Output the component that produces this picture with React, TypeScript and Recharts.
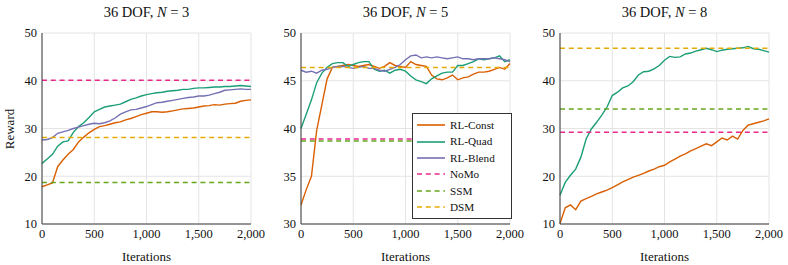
import React from 'react';
import { LineChart, Line, XAxis, YAxis, CartesianGrid, ReferenceLine, Legend } from 'recharts';

// x positions (iterations)
const iterations = [
  0, 50, 100, 150, 200, 250, 300, 350, 400, 450, 500, 550, 600, 650, 700, 750, 800, 850, 900, 950,
  1000, 1050, 1100, 1150, 1200, 1250, 1300, 1350, 1400, 1450, 1500, 1550, 1600, 1650, 1700, 1750,
  1800, 1850, 1900, 1950, 2000,
];

// N = 3
const constN3 = [
  17.8, 18.2, 18.6, 22.0, 23.4, 24.6, 25.6, 27.2, 28.2, 29.1, 29.8, 30.4, 30.6, 30.9, 31.2, 31.4, 31.8, 32.1, 32.5, 32.9,
  33.2, 33.5, 33.5, 33.4, 33.5, 33.7, 33.9, 34.1, 34.2, 34.3, 34.5, 34.7, 34.8, 35.0, 34.9, 35.1, 35.2, 35.3, 35.7, 35.9, 36.0,
];
const quadN3 = [
  22.7, 23.6, 24.6, 26.3, 27.2, 27.4, 29.2, 30.4, 31.2, 32.3, 33.5, 34.0, 34.5, 34.7, 34.9, 35.1, 35.6, 36.1, 36.4, 36.8,
  37.1, 37.3, 37.5, 37.6, 37.8, 37.9, 38.0, 38.2, 38.2, 38.4, 38.5, 38.5, 38.6, 38.7, 38.7, 38.8, 38.8, 38.9, 39.0, 38.9, 38.8,
];
const blendN3 = [
  27.6, 27.7, 28.1, 29.0, 29.3, 29.6, 30.0, 30.3, 30.6, 30.9, 31.1, 31.0, 31.2, 31.6, 32.2, 33.0, 33.5, 33.9, 34.0, 34.3,
  34.6, 35.0, 35.4, 35.5, 35.7, 35.9, 36.1, 36.3, 36.5, 36.6, 36.8, 36.8, 37.0, 37.3, 37.6, 38.0, 38.1, 38.2, 38.3, 38.2, 38.2,
];

// N = 5
const constN5 = [
  32.0, 33.6, 35.0, 39.8, 42.5, 45.2, 46.4, 46.5, 46.6, 46.7, 46.6, 46.5, 46.6, 46.7, 46.5, 46.3, 46.5, 46.9, 46.6, 46.5,
  46.4, 47.0, 46.7, 46.6, 46.5, 45.6, 45.2, 45.1, 45.3, 45.6, 45.1, 45.3, 45.4, 45.7, 45.9, 45.9, 46.0, 46.2, 46.4, 46.2, 46.8,
];
const quadN5 = [
  40.0, 41.5, 43.0, 44.8, 45.8, 46.4, 46.8, 46.9, 46.9, 46.5, 46.7, 46.9, 47.0, 47.0, 46.2, 46.0, 46.1, 45.8, 46.1, 46.2,
  46.0, 45.5, 45.1, 44.9, 44.7, 45.2, 45.5, 45.8, 45.9, 45.9, 46.6, 46.6, 46.8, 47.0, 47.3, 47.2, 47.3, 47.4, 47.6, 47.0, 47.2,
];
const blendN5 = [
  46.1, 45.9, 46.0, 45.8, 46.1, 46.2, 46.4, 46.5, 46.5, 46.4, 46.3, 46.4, 46.5, 46.3, 46.3, 46.1, 46.0, 46.2, 46.4, 46.7,
  47.2, 47.6, 47.7, 47.4, 47.5, 47.4, 47.5, 47.4, 47.3, 47.4, 47.5, 47.3, 47.3, 47.2, 47.3, 47.3, 47.3, 47.4, 47.3, 47.2, 47.0,
];

// N = 8 (no RL-Blend)
const constN8 = [
  10.1, 13.4, 14.0, 13.0, 14.8, 15.3, 15.8, 16.3, 16.7, 17.1, 17.6, 18.2, 18.8, 19.3, 19.8, 20.2, 20.6, 21.1, 21.5, 22.0,
  22.3, 23.0, 23.6, 24.2, 24.7, 25.3, 25.8, 26.3, 26.8, 26.4, 27.2, 28.0, 27.6, 28.4, 27.8, 29.6, 30.7, 31.0, 31.3, 31.6, 32.0,
];
const quadN8 = [
  16.0, 18.7, 20.2, 21.5, 24.0, 27.8, 29.9, 31.3, 32.8, 34.5, 36.9, 37.6, 38.5, 38.9, 39.8, 41.2, 41.9, 42.0, 42.5, 43.2,
  44.3, 45.1, 44.9, 45.0, 45.6, 45.8, 46.2, 46.5, 46.8, 46.5, 46.1, 46.4, 46.6, 46.7, 46.8, 46.9, 47.2, 46.7, 46.6, 46.3, 46.0,
];

// baselines per panel
const noMo = [40.1, 38.9, 29.2];
const ssm = [18.7, 38.7, 34.1];
const dsm = [28.1, 46.4, 46.8];

const dofCounts = [3, 5, 8];
const xTicks = [0, 500, 1000, 1500, 2000];
const yTicksWide = [10, 20, 30, 40, 50];
const yTicksNarrow = [30, 35, 40, 45, 50];

const legendNames = ['RL-Const', 'RL-Quad', 'RL-Blend', 'NoMo', 'SSM', 'DSM'];
const legendColors = ['#d95f02', '#1b9e77', '#7570b3', '#e7298a', '#66a61e', '#e6ab02'];
const legendDashed = [false, false, false, true, true, true];

const FONT = "'Liberation Serif', 'Times New Roman', serif";
const AXIS = '#3a3a3a';
const DASH = '5 3.8';
const tickStyle = { fontSize: 12.5, fill: '#111', fontFamily: FONT };
const labelStyle = { fontSize: 13, fill: '#111', fontFamily: FONT };

const buildRows = (c: number[], q: number[], b?: number[]) =>
  iterations.map((it, i) => ({ it, c: c[i], q: q[i], b: b ? b[i] : undefined }));

const panels = [
  { rows: buildRows(constN3, quadN3, blendN3), ticks: yTicksWide, blend: true },
  { rows: buildRows(constN5, quadN5, blendN5), ticks: yTicksNarrow, blend: true },
  { rows: buildRows(constN8, quadN8), ticks: yTicksWide, blend: false },
];

const chartLefts = [0, 259, 518];

function LegendBox() {
  return (
    <div
      style={{
        border: '1px solid #333',
        background: '#fff',
        width: 94,
        padding: '3px 0 3px 4px',
        fontSize: 11.2,
        fontFamily: FONT,
        lineHeight: '16.4px',
      }}
    >
      {legendNames.map((name, i) => (
        <div key={name} style={{ display: 'flex', alignItems: 'center', height: 16.4 }}>
          <svg width={28} height={6} style={{ marginRight: 5, flex: 'none' }}>
            <line
              x1={0}
              x2={28}
              y1={3}
              y2={3}
              stroke={legendColors[i]}
              strokeWidth={1.6}
              strokeDasharray={legendDashed[i] ? DASH : undefined}
            />
          </svg>
          <span style={{ color: '#111' }}>{name}</span>
        </div>
      ))}
    </div>
  );
}

function Panel({ idx }: { idx: number }) {
  const p = panels[idx];
  const domain = [p.ticks[0], p.ticks[p.ticks.length - 1]];
  return (
    <div style={{ position: 'absolute', left: chartLefts[idx], top: 0 }}>
      <LineChart width={270} height={265} data={p.rows} margin={{ top: 33, right: 19, bottom: 0, left: 0 }} style={{ fontFamily: FONT }}>
        <CartesianGrid stroke="#e4e4e4" strokeWidth={1} />
        <XAxis
          dataKey="it"
          type="number"
          domain={[0, 2000]}
          ticks={xTicks}
          tickFormatter={(v: number) => v.toLocaleString('en-US')}
          height={41}
          tickSize={3}
          tickMargin={2}
          tickLine={false}
          axisLine={{ stroke: AXIS }}
          tick={tickStyle}
          interval={0}
          label={{ value: 'Iterations', position: 'insideBottom', offset: 4.5, style: labelStyle }}
        />
        <XAxis xAxisId="top" orientation="top" type="number" domain={[0, 2000]} height={0} tick={false} tickLine={false} axisLine={{ stroke: AXIS }} />
        <YAxis
          type="number"
          domain={domain}
          ticks={p.ticks}
          width={42}
          tickSize={3}
          tickMargin={2}
          tickLine={false}
          axisLine={{ stroke: AXIS }}
          tick={tickStyle}
          interval={0}
        />
        <YAxis yAxisId="right" orientation="right" type="number" domain={domain} width={0} tick={false} tickLine={false} axisLine={{ stroke: '#777', strokeWidth: 1.5 }} />
        <Line dataKey="c" stroke={legendColors[0]} strokeWidth={1.4} dot={false} isAnimationActive={false} />
        <Line dataKey="q" stroke={legendColors[1]} strokeWidth={1.4} dot={false} isAnimationActive={false} />
        {p.blend && <Line dataKey="b" stroke={legendColors[2]} strokeWidth={1.4} dot={false} isAnimationActive={false} />}
        <ReferenceLine y={dsm[idx]} stroke={legendColors[5]} strokeWidth={1.5} strokeDasharray={DASH} />
        <ReferenceLine y={ssm[idx]} stroke={legendColors[4]} strokeWidth={1.5} strokeDasharray={DASH} />
        <ReferenceLine y={noMo[idx]} stroke={legendColors[3]} strokeWidth={1.5} strokeDasharray={DASH} />
        {idx === 1 && (
          <Legend
            layout="vertical"
            align="center"
            verticalAlign="middle"
            wrapperStyle={{ left: 153, top: 113, width: 'auto', height: 'auto' }}
            content={() => <LegendBox />}
          />
        )}
      </LineChart>
      <div
        style={{
          position: 'absolute',
          left: 42,
          top: 2,
          width: 209,
          textAlign: 'center',
          fontSize: 14.5,
          lineHeight: '20px',
          color: '#111',
          fontFamily: FONT,
        }}
      >
        36 DOF, <i>N</i> = {dofCounts[idx]}
      </div>
    </div>
  );
}

export default function App() {
  return (
    <div style={{ position: 'absolute', left: 0, top: 0, width: 788, height: 265, background: '#fff', fontFamily: FONT, overflow: 'hidden' }}>
      {panels.map((_, i) => (
        <Panel key={i} idx={i} />
      ))}
      <div
        style={{
          position: 'absolute',
          left: 10,
          top: 128.5,
          transform: 'translate(-50%, -50%) rotate(-90deg)',
          fontSize: 13,
          color: '#111',
          whiteSpace: 'nowrap',
          fontFamily: FONT,
        }}
      >
        Reward
      </div>
    </div>
  );
}
